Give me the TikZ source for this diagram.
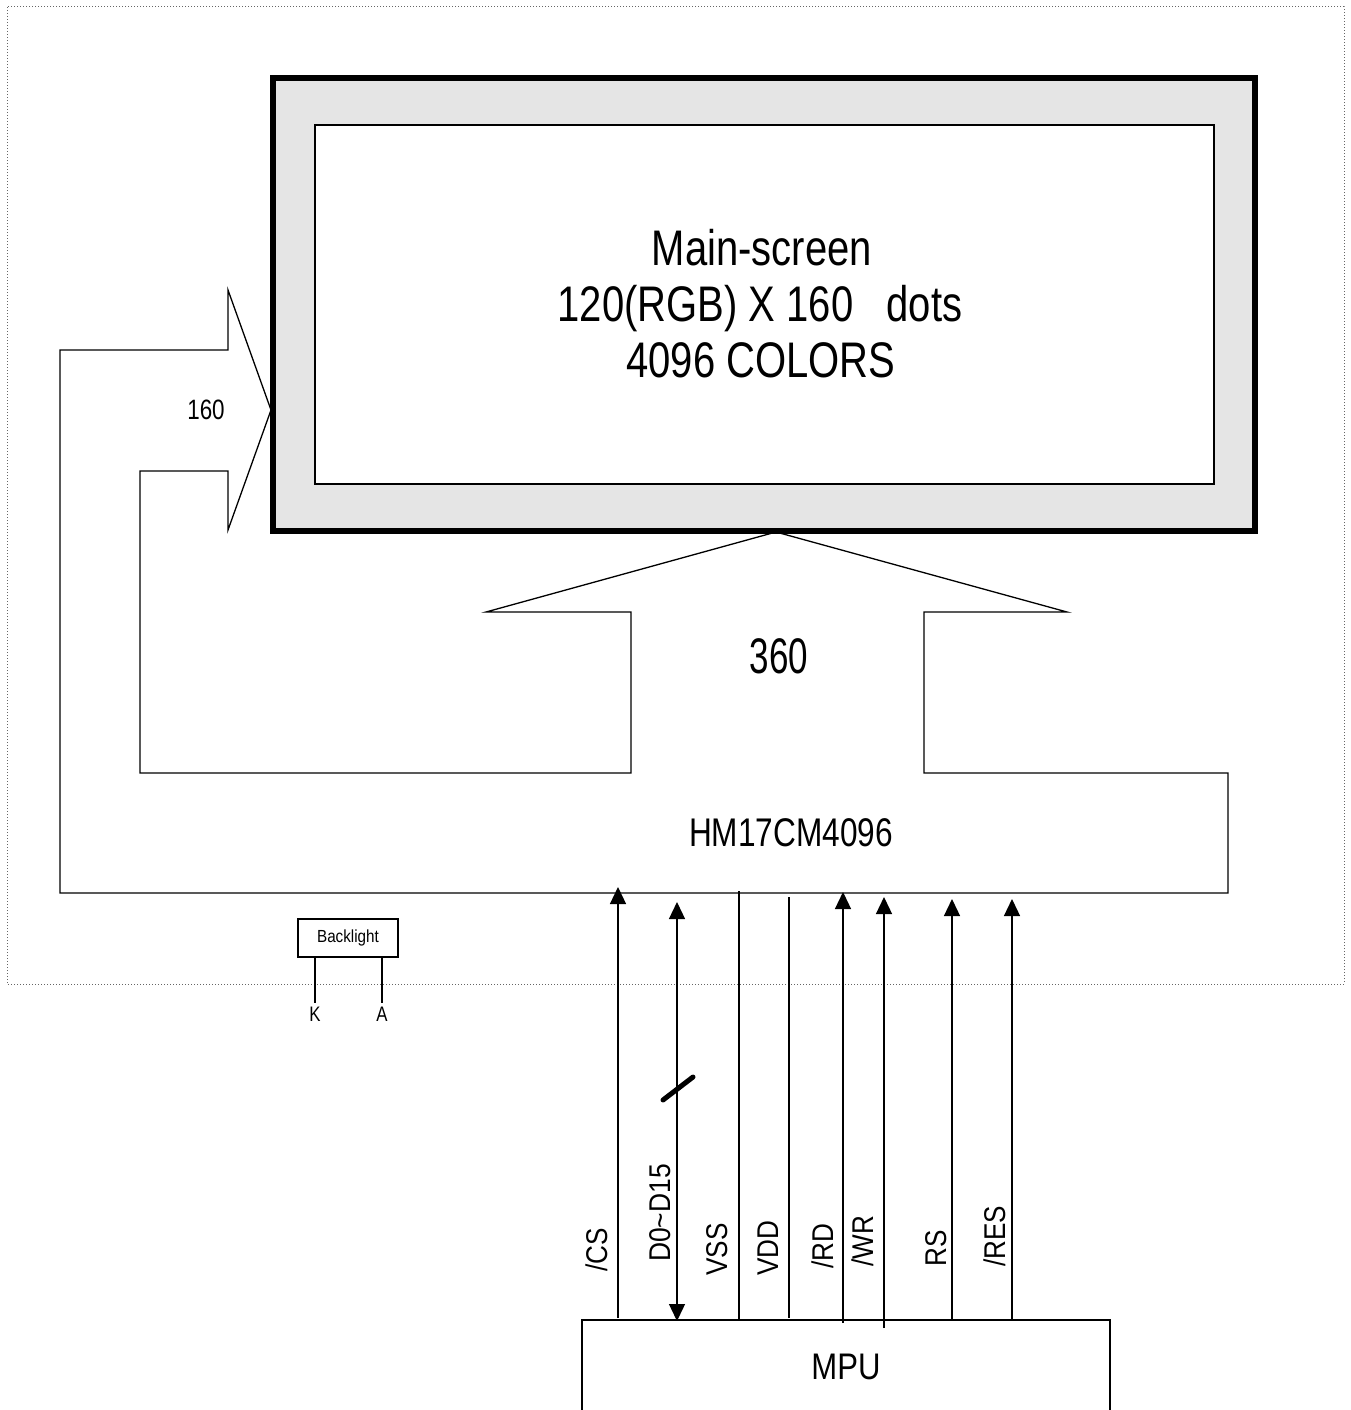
\documentclass[tikz,border=0pt]{standalone}
\usepackage{fontspec}
\setmainfont{Liberation Sans}
\usetikzlibrary{arrows.meta}
\newcommand\fsz[2]{\fontsize{#1}{#2}\selectfont}
\newcommand\hs[2]{\scalebox{#1}[1]{#2}}
\begin{document}
\begin{tikzpicture}[x=1pt,y=-1pt,
  outl/.style={line width=1.3pt, line join=miter},
  sig/.style={line width=1.3pt},
  tipu/.style={-{Triangle[width=16pt,length=17pt]}},
  tipb/.style={{Triangle[width=16pt,length=17pt]}-{Triangle[width=16pt,length=17pt]}},
  lbl/.style={rotate=90, anchor=base west, inner sep=0pt, font=\fsz{30}{30}},
  txt/.style={inner sep=0pt, anchor=base}]
\useasboundingbox (0,0) rectangle (1351,1410);
% dotted frame
\draw[black!60, line width=1pt, dash pattern=on 1pt off 2pt] (7,7) rectangle (1344,984);

% combined controller outline with arrows
\draw[outl] (60,350) -- (228,350) -- (228,290) -- (271,410) -- (228,530) -- (228,471)
  -- (140,471) -- (140,773) -- (631,773) -- (631,612) -- (486,612) -- (776,532)
  -- (1067,612) -- (924,612) -- (924,773) -- (1228,773) -- (1228,893) -- (60,893) -- cycle;

% display
\draw[line width=6pt, fill=black!10] (273,78) rectangle (1255,531);
\draw[line width=1.3pt, fill=white] (315,125) rectangle (1214,484);

\node[txt, font=\fsz{50}{56}] (ms1) at (762,265) {\hs{0.8}{Main-screen}};
\node[txt, font=\fsz{50}{56}] (ms2) at (760,321) {\hs{0.8}{120(RGB) X 160\ \ \ dots}};
\node[txt, font=\fsz{50}{56}] (ms3) at (761,377) {\hs{0.8}{4096 COLORS}};

\node[txt, font=\fsz{28}{28}] (n160) at (206,419) {\hs{0.8}{160}};
\node[txt, font=\fsz{50}{50}] (n360) at (779,673) {\hs{0.7}{360}};
\node[txt, font=\fsz{40}{40}] (hm) at (791,846) {\hs{0.79}{HM17CM4096}};

% backlight
\node[draw, line width=1.5pt, minimum width=100pt, minimum height=38pt, inner sep=0pt,
  font=\fsz{17.5}{17.5}] (bl) at (348,938) {\hs{0.87}{Backlight}};
\coordinate (kE) at (315,1003);
\coordinate (aE) at (382,1003);
\draw[line width=2pt] (kE |- bl.south) -- (kE);
\draw[line width=2pt] (aE |- bl.south) -- (aE);
\node[txt, font=\fsz{21}{21}] (kl) at (315,1021) {\hs{0.8}{K}};
\node[txt, font=\fsz{21}{21}] (al) at (382,1021) {\hs{0.8}{A}};

% MPU
\draw[outl] (582,1410) -- (582,1320) -- (1110,1320) -- (1110,1410);
\node[txt, font=\fsz{37}{37}] (mpu) at (846,1379) {\hs{0.84}{MPU}};

% signals
\coordinate (csB) at (618,1318); \coordinate (csT) at (618,887);
\coordinate (dB) at (677,1321); \coordinate (dT) at (677,902);
\coordinate (vsB) at (739,1320); \coordinate (vsT) at (739,891);
\coordinate (vdB) at (789,1318); \coordinate (vdT) at (789,897);
\coordinate (rdB) at (843,1323); \coordinate (rdT) at (843,892);
\coordinate (wrB) at (884,1328); \coordinate (wrT) at (884,897);
\coordinate (rsB) at (952,1320); \coordinate (rsT) at (952,899);
\coordinate (reB) at (1012,1320); \coordinate (reT) at (1012,899);
\draw[sig,tipu] (csB) -- (csT);
\draw[sig,tipb] (dB) -- (dT);
\draw[sig] (vsB) -- (vsT);
\draw[sig] (vdB) -- (vdT);
\draw[sig,tipu] (rdB) -- (rdT);
\draw[sig,tipu] (wrB) -- (wrT);
\draw[sig,tipu] (rsB) -- (rsT);
\draw[sig,tipu] (reB) -- (reT);
% bus slash
\draw[line width=5pt, line cap=round] (663,1100) -- (693,1077);

% labels
\node[lbl] (lcs) at (607,1272) {\hs{0.87}{/CS}};
\node[lbl] (ld) at (670,1262) {\hs{0.88}{D0\char"007E D15}};
\node[lbl] (lvs) at (727,1276) {\hs{0.87}{VSS}};
\node[lbl] (lvd) at (778,1276) {\hs{0.87}{VDD}};
\node[lbl] (lrd) at (833,1269) {\hs{0.87}{/RD}};
\node[lbl] (lwr) at (873,1267) {\hs{0.87}{/WR}};
\node[lbl] (lrs) at (946,1267) {\hs{0.87}{RS}};
\node[lbl] (lre) at (1005,1267) {\hs{0.87}{/RES}};
\end{tikzpicture}
\end{document}
